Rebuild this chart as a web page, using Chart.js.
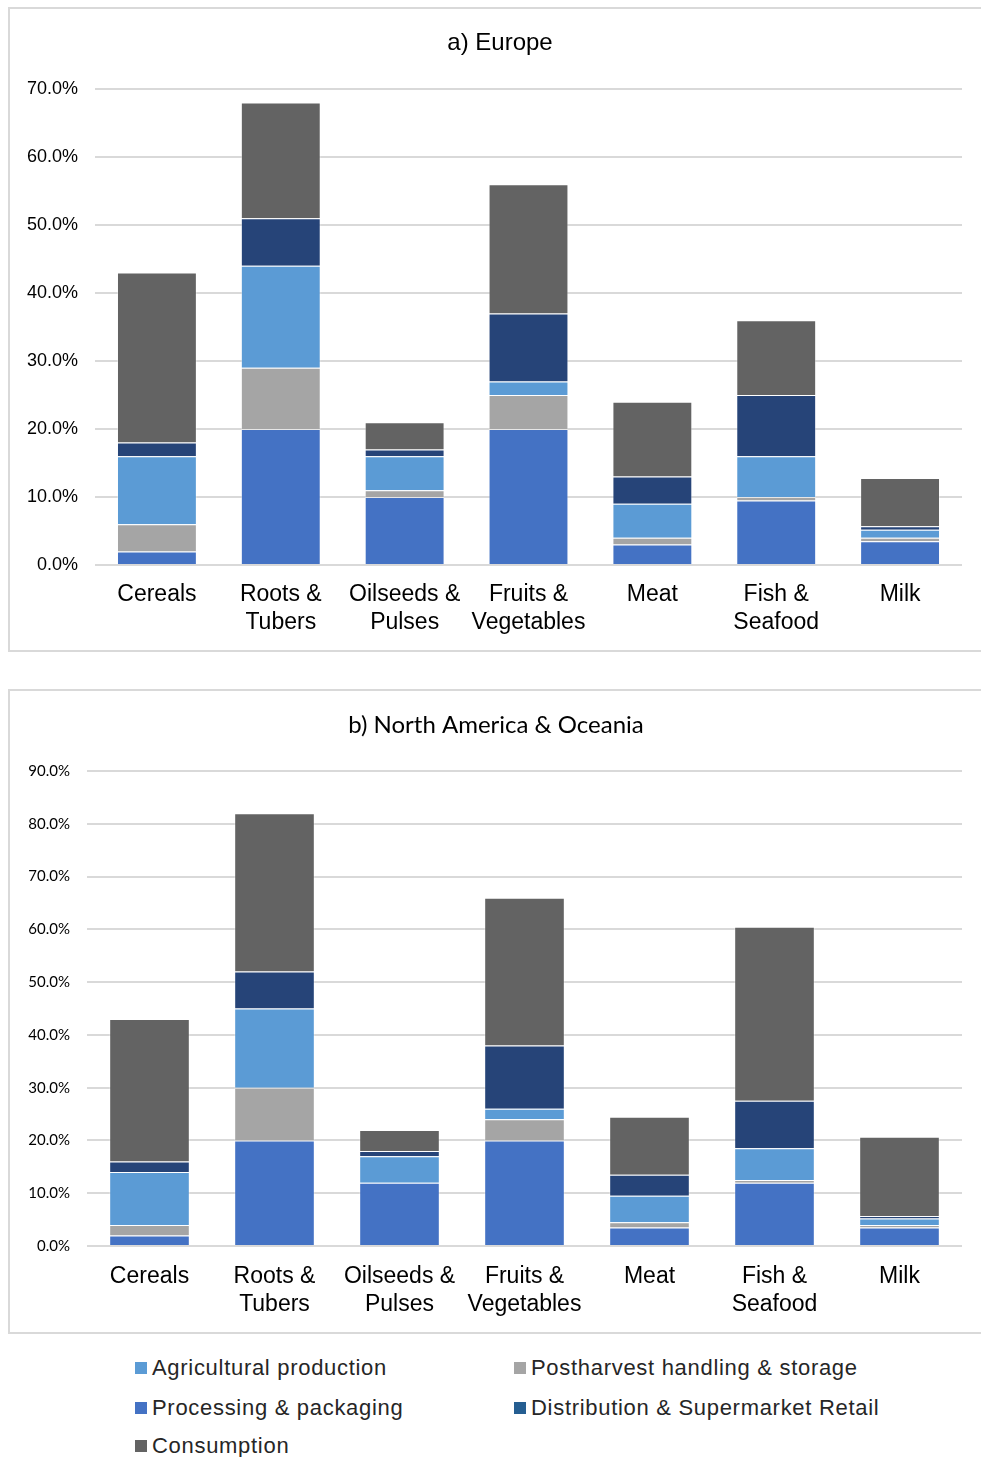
<!DOCTYPE html>
<html>
<head>
<meta charset="utf-8">
<script src="https://cdn.jsdelivr.net/npm/chart.js@4.4.0/dist/chart.umd.min.js"></script>
<style>
  html, body { margin: 0; padding: 0; background: #fff; }
  body { position: relative; width: 981px; height: 1457px; overflow: hidden; }
  .panel { position: absolute; left: 8px; width: 1000px; border: 2px solid #D9D9D9; box-sizing: border-box; }
  #panelA { top: 7px; height: 645px; }
  #panelB { top: 689px; height: 645px; }
  canvas { position: absolute; left: 0; }
  #chartA { top: 0; }
  #chartB { top: 682px; }
  .legend-item { position: absolute; font-family: "Liberation Sans", Arial, sans-serif; font-size: 22px;
    letter-spacing: 0.7px; color: #262626; line-height: 26px; white-space: nowrap; }
  .legend-item .sw { display: inline-block; width: 12px; height: 12px; margin-right: 5px; vertical-align: 1px; }
</style>
</head>
<body>
<div class="panel" id="panelA"></div>
<div class="panel" id="panelB"></div>
<canvas id="chartA" width="1000" height="650"></canvas>
<canvas id="chartB" width="992" height="652"></canvas>
<div id="legend"></div>

<script>
// Food commodity groups
const categories = [
  'Cereals', ['Roots &', 'Tubers'], ['Oilseeds &', 'Pulses'], ['Fruits &', 'Vegetables'],
  'Meat', ['Fish &', 'Seafood'], 'Milk'
];

// Stages of the food supply chain, in stacking order (bottom to top)
const stages = [
  'Agricultural production',
  'Postharvest handling & storage',
  'Processing & packaging',
  'Distribution & Supermarket Retail',
  'Consumption'
];

// Share of food lost or wasted at each stage (%) — Europe
const europeAgri         = [2,  20, 10, 20, 3,  9.5, 3.5];
const europePostharvest  = [4,  9,  1,  5,  1,  0.5, 0.5];
const europeProcessing   = [10, 15, 5,  2,  5,  6,   1.2];
const europeDistribution = [2,  7,  1,  10, 4,  9,   0.5];
const europeConsumption  = [25, 17, 4,  19, 11, 11,  7.1];

// Share of food lost or wasted at each stage (%) — North America & Oceania
const naoAgri         = [2,  20, 12, 20, 3.5, 12,  3.5];
const naoPostharvest  = [2,  10, 0,  4,  1,   0.5, 0.5];
const naoProcessing   = [10, 15, 5,  2,  5,   6,   1.2];
const naoDistribution = [2,  7,  1,  12, 4,   9,   0.5];
const naoConsumption  = [27, 30, 4,  28, 11,  33,  15];

// Y-axis ranges (%)
const europeMax = 70;
const naoMax = 90;
const tickStep = 10;

// Fill colours of the stacked segments (bottom to top)
const barColors = ['#4472C4', '#A5A5A5', '#5B9BD5', '#264478', '#636363'];

// Legend entries and swatch colours as listed under the charts
const legendLabels = [
  'Agricultural production', 'Postharvest handling & storage',
  'Processing & packaging', 'Distribution & Supermarket Retail',
  'Consumption'
];
const legendColors = ['#5B9BD5', '#A5A5A5', '#4472C4', '#255E91', '#636363'];

function makeDatasets(series) {
  return series.map((data, i) => ({
    label: stages[i],
    data: data,
    backgroundColor: barColors[i],
    borderColor: 'rgba(255,255,255,0.35)',
    borderWidth: 1,
    barPercentage: 0.645,
    categoryPercentage: 1.0
  }));
}

function makeChart(canvasId, series, yMax, opts) {
  return new Chart(document.getElementById(canvasId), {
    type: 'bar',
    data: { labels: categories, datasets: makeDatasets(series) },
    options: {
      responsive: false,
      animation: false,
      layout: { padding: 0 },
      plugins: {
        legend: { display: false },
        tooltip: { enabled: false },
        title: {
          display: true,
          text: opts.title,
          color: '#000',
          font: { family: opts.titleFamily, size: opts.titleSize, weight: 'normal', lineHeight: 1.2 },
          padding: { top: opts.titlePadTop, bottom: opts.titlePadBottom }
        }
      },
      scales: {
        x: {
          stacked: true,
          grid: { display: false, drawTicks: false },
          border: { display: false },
          ticks: {
            color: '#000',
            font: { family: '"Liberation Sans", Arial, sans-serif', size: 23, lineHeight: opts.catLineHeight },
            padding: opts.catPad,
            maxRotation: 0,
            autoSkip: false
          },
          afterFit: (scale) => { scale.height = opts.xHeight; }
        },
        y: {
          stacked: true,
          min: 0,
          max: yMax,
          grid: { color: '#D9D9D9', lineWidth: 2, drawTicks: false },
          border: { display: false },
          ticks: {
            stepSize: tickStep,
            color: '#000',
            padding: 17,
            font: { family: opts.tickFamily, size: opts.tickSize },
            callback: (v) => v.toFixed(1) + '%'
          },
          afterFit: (scale) => { scale.width = opts.yWidth; }
        },
        // empty right-hand margin of the plot
        yRight: {
          type: 'linear',
          position: 'right',
          grid: { display: false, drawTicks: false },
          border: { display: false },
          ticks: { display: false },
          afterFit: (scale) => { scale.width = opts.rightWidth; }
        }
      }
    }
  });
}

makeChart('chartA',
  [europeAgri, europePostharvest, europeProcessing, europeDistribution, europeConsumption],
  europeMax,
  {
    title: 'a) Europe',
    titleFamily: '"Liberation Sans", Arial, sans-serif', titleSize: 24,
    titlePadTop: 28.6, titlePadBottom: 31.6,
    tickFamily: '"Liberation Sans", Arial, sans-serif', tickSize: 18,
    yWidth: 95, rightWidth: 38, xHeight: 85, catPad: 16, catLineHeight: 1.2
  });

makeChart('chartB',
  [naoAgri, naoPostharvest, naoProcessing, naoDistribution, naoConsumption],
  naoMax,
  {
    title: 'b) North America & Oceania',
    titleFamily: 'Lato, sans-serif', titleSize: 24,
    titlePadTop: 28.6, titlePadBottom: 31.6,
    tickFamily: 'Lato, sans-serif', tickSize: 15,
    yWidth: 87, rightWidth: 30, xHeight: 88, catPad: 17, catLineHeight: 1.22
  });

// Legend below both panels, two columns
const legendPos = [
  { x: 135, y: 1368 }, { x: 514, y: 1368 },
  { x: 135, y: 1408 }, { x: 514, y: 1408 },
  { x: 135, y: 1446 }
];
const legendEl = document.getElementById('legend');
legendLabels.forEach((label, i) => {
  const item = document.createElement('div');
  item.className = 'legend-item';
  item.style.left = legendPos[i].x + 'px';
  item.style.top = (legendPos[i].y - 13) + 'px';
  const sw = document.createElement('span');
  sw.className = 'sw';
  sw.style.background = legendColors[i];
  item.appendChild(sw);
  item.appendChild(document.createTextNode(label));
  legendEl.appendChild(item);
});
</script>
</body>
</html>
